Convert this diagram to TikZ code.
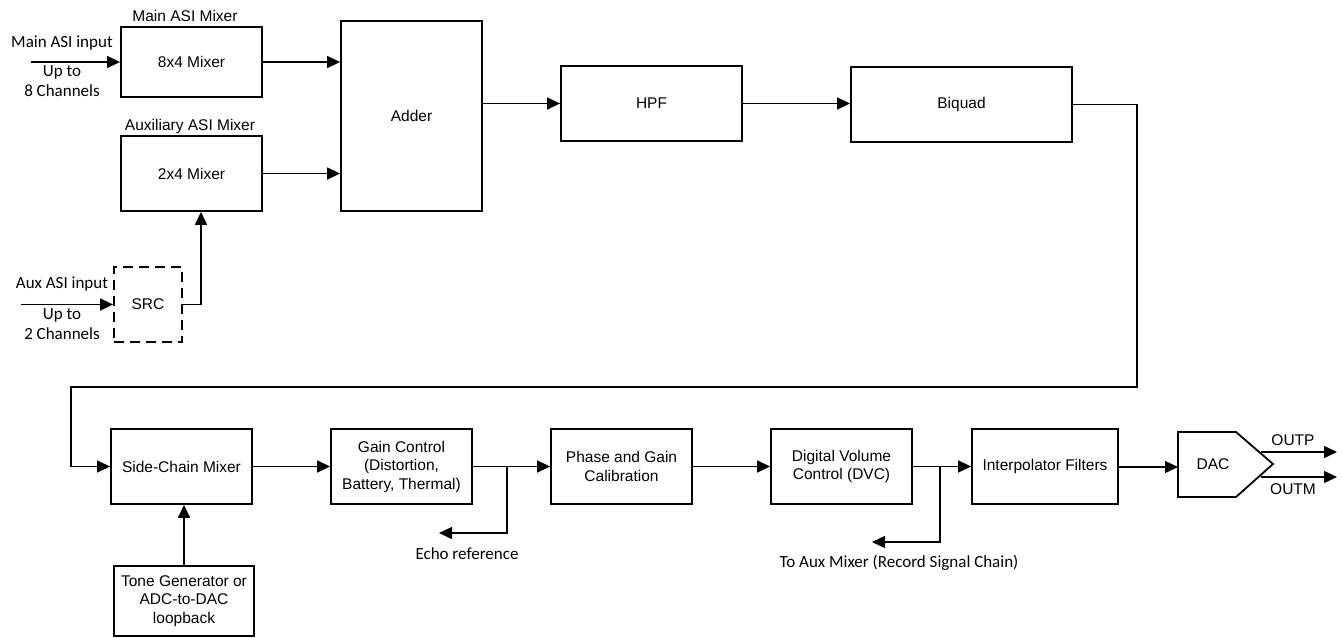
\documentclass[tikz,border=0pt]{standalone}
\usepackage{fontspec}
\setmainfont{Liberation Sans}
\newfontfamily\calibri{Carlito}
\usetikzlibrary{arrows.meta,positioning}

\begin{document}
\begin{tikzpicture}[x=1pt, y=-1pt, line width=1.4pt,
    block/.style = {draw, line width=1.8pt, minimum width=141pt, minimum height=75pt, align=center, inner sep=2pt, font=\fontsize{15.5}{18.5}\selectfont},
    note/.style = {align=center, inner sep=0pt, font=\calibri\fontsize{17}{20}\selectfont},
    head/.style = {inner sep=0pt, font=\fontsize{15.5}{18.5}\selectfont},
    >={Triangle[length=13pt,width=12pt]}]
    \useasboundingbox (0,0) rectangle (1343,637);

    % top row
    \node[block, minimum height=70pt] (mix_main) at (191.5,62) {8x4 Mixer};
    \node[block] (mix_aux) at (191.5,173.5) {2x4 Mixer};
    \node[block, minimum height=190pt] (adder) at (411.5,116) {Adder};
    \node[block, minimum width=181pt] (hpf) at (651.5,103.5) {HPF};
    \node[block, minimum width=221pt] (biquad) at (961.5,104.5) {Biquad};
    \node[block, dashed, dash pattern=on 10pt off 6pt, minimum width=68pt] (src) at (148,304.5) {SRC};

    \node[head] (t_main) at (185,16) {Main ASI Mixer};
    \node[head] (t_aux) at (190,126) {Auxiliary ASI Mixer};

    % bottom row
    \node[block] (side) at (181.5,466.5) {Side-Chain Mixer};
    \node[block, minimum width=140pt, minimum height=70pt] (tone) at (184,601) {Tone Generator or\\ADC-to-DAC\\loopback};
    \node[block] (gain) at (401.5,466.5) {Gain Control\\(Distortion,\\Battery, Thermal)};
    \node[block] (phase) at (621.5,466.5) {Phase and Gain\\Calibration};
    \node[block] (dvc) at (841.5,466.5) {Digital Volume\\Control (DVC)};
    \node[block, minimum width=146pt] (interp) at (1045,466.5) {Interpolator Filters};

    % DAC
    \draw[line width=1.8pt] (1178,432) -- (1236,432) -- (1273,464) -- (1236,497) -- (1178,497) -- cycle;
    \node[head] (dac) at (1213,464) {DAC};
    \coordinate (dac_in) at (1178,467);

    % inputs
    \coordinate (in_main) at (31,62);
    \coordinate (in_aux) at (21,304.5);
    \node[note] (l_main) at (62,43) {Main ASI input};
    \node[note] (l_main2) at (62,81) {Up to\\8 Channels};
    \node[note] (l_aux) at (62,284) {Aux ASI input};
    \node[note] (l_aux2) at (62,324) {Up to\\2 Channels};

    \draw[->] (in_main) -- (mix_main.west);
    \draw[->] (in_aux) -- (src.west);
    \draw[->] (mix_main.east) -- (mix_main.east -| adder.west);
    \draw[->] (mix_aux.east) -- (mix_aux.east -| adder.west);
    \draw[->] (src.east) -| ([xshift=9.5pt]mix_aux.south);
    \draw[->] (adder.east |- hpf.west) -- (hpf.west);
    \draw[->] (hpf.east) -- (hpf.east -| biquad.west);

    % feedback to the second row
    \coordinate (turn_r) at (1137,387);
    \coordinate (turn_l) at (71,387);
    \draw[->, line width=1.2pt] (biquad.east) -| (turn_r) -- (turn_l) |- (side.west);

    \draw[->] (tone.north) -- (tone.north |- side.south);
    \draw[->] (side) -- (gain);
    \draw[->] (gain) -- (phase);
    \draw[->] (phase) -- (dvc);
    \draw[->] (dvc) -- (interp);
    \draw[->] (interp.east |- dac_in) -- (dac_in);

    % taps
    \coordinate (j_echo) at (507,466.5);
    \coordinate (echo_tip) at (439,533);
    \draw[->] (j_echo) |- (echo_tip);
    \node[note] (l_echo) at (467,554) {Echo reference};

    \coordinate (j_rec) at (940,466.5);
    \coordinate (rec_tip) at (872,542);
    \draw[->] (j_rec) |- (rec_tip);
    \node[note] (l_rec) at (899,563) {To Aux Mixer (Record Signal Chain)};

    % outputs
    \coordinate (outp_a) at (1261,452);
    \coordinate (outp_b) at (1337,452);
    \coordinate (outm_a) at (1261,477);
    \coordinate (outm_b) at (1337,477);
    \draw[->] (outp_a) -- (outp_b);
    \draw[->] (outm_a) -- (outm_b);
    \node[head] (l_outp) at (1293,440) {OUTP};
    \node[head] (l_outm) at (1293,489) {OUTM};
\end{tikzpicture}
\end{document}
